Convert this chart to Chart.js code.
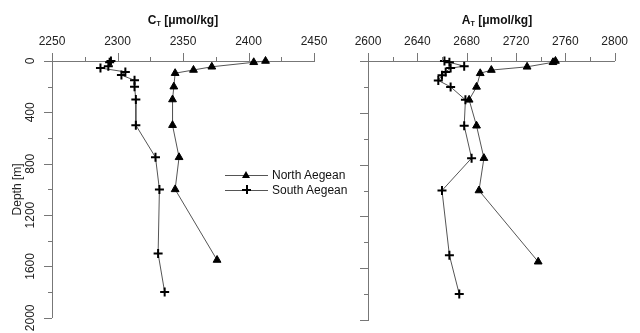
<!DOCTYPE html>
<html>
<head>
<meta charset="utf-8">
<script src="https://cdn.jsdelivr.net/npm/chart.js@4.4.1/dist/chart.umd.min.js"></script>
<style>
    body { margin: 0; background: #fff; font-family: "Liberation Sans", Arial, sans-serif; color: #111; }
    #wrap { position: relative; width: 640px; height: 333px; overflow: hidden; }
    #cLeft  { position: absolute; left: 0;     top: 0; }
    #cRight { position: absolute; left: 320px; top: 0; }
    .title { position: absolute; top: 13px; font-size: 12px; font-weight: bold; transform: translateX(-50%); white-space: nowrap; }
    .title sub { font-size: 7px; vertical-align: -2px; }
    .leg { position: absolute; left: 225px; height: 14px; display: flex; align-items: center; font-size: 12px; }
    .leg .ln { position: relative; width: 43px; height: 1px; background: #555; margin-right: 4px; }
    .tri { position: absolute; left: 17px; top: -4px; width: 0; height: 0;
           border-left: 4px solid transparent; border-right: 4px solid transparent; border-bottom: 7px solid #000; }
    .ph { position: absolute; left: 17px; top: -1px; width: 9px; height: 2px; background: #000; }
    .pv { position: absolute; left: 20.5px; top: -4.5px; width: 2px; height: 9px; background: #000; }
</style>
</head>
<body>
<div id="wrap">
    <canvas id="cLeft" width="340" height="333"></canvas>
    <canvas id="cRight" width="320" height="333"></canvas>
    <div class="title" style="left:183px">C<sub>T</sub> [μmol/kg]</div>
    <div class="title" style="left:497px">A<sub>T</sub> [μmol/kg]</div>
    <div class="leg" style="top:168px"><span class="ln"><span class="tri"></span></span>North Aegean</div>
    <div class="leg" style="top:183px"><span class="ln"><span class="ph"></span><span class="pv"></span></span>South Aegean</div>
</div>
<script>
// depths (m) of the sampled stations
const depthNorth = [0, 10, 45, 70, 95, 200, 300, 500, 750, 1000, 1550];
const depthSouth = [0, 10, 40, 55, 85, 110, 150, 200, 300, 500, 750, 1000, 1500, 1800];

// total inorganic carbon C_T
const ctNorth = [2413, 2404, 2372, 2358, 2344, 2343, 2342, 2342, 2347, 2344, 2376];
const ctSouth = [2295, 2294, 2293, 2287, 2306, 2303, 2313, 2313, 2314, 2314, 2329, 2332, 2331, 2336];

// total alkalinity A_T
const atNorth = [2752, 2750, 2729, 2700, 2691, 2688, 2682, 2688, 2694, 2690, 2738];
const atSouth = [2662, 2666, 2678, 2667, 2663, 2660, 2657, 2667, 2679, 2678, 2684, 2660, 2666, 2674];

const depthTicks = { min: 0, max: 2000, step: 200, major: 400 };
const ctTicks = { min: 2250, max: 2450, step: 25, major: 50 };
const atTicks = { min: 2600, max: 2800, step: 20, major: 40 };

const AXIS = '#777';
const INK = '#222';

const toPts = (xs, ys) => xs.map((v, i) => ({ x: v, y: ys[i] }));

// major/minor tick marks, drawn outward from the axes
const axisTicks = {
    id: 'axisTicks',
    afterDraw(chart, args, opts) {
        const ctx = chart.ctx, x = chart.scales.x, y = chart.scales.y;
        ctx.save();
        ctx.strokeStyle = AXIS; ctx.lineWidth = 1;
        ctx.beginPath();
        x.ticks.forEach(t => {
            const px = Math.round(x.getPixelForValue(t.value)) + 0.5;
            const len = t.value % opts.xMajor === 0 ? 8 : 4;
            ctx.moveTo(px, x.bottom); ctx.lineTo(px, x.bottom - len);
        });
        y.ticks.forEach(t => {
            const py = Math.round(y.getPixelForValue(t.value)) + 0.5;
            const len = t.value % opts.yMajor === 0 ? 8 : 4;
            ctx.moveTo(y.right, py); ctx.lineTo(y.right - len, py);
        });
        ctx.stroke();
        ctx.restore();
    }
};

function series(label, xs, ys, style) {
    const cross = style === 'cross';
    return {
        label, data: toPts(xs, ys), showLine: true,
        borderColor: '#555', borderWidth: 1,
        pointStyle: style, pointRadius: cross ? 4.5 : 4.5,
        pointBorderWidth: cross ? 2 : 1,
        pointBackgroundColor: '#000', pointBorderColor: '#000',
        clip: false
    };
}

function makeChart(id, xs, left, yWidth, padRight) {
    const font = { family: '"Liberation Sans", Arial, sans-serif', size: 12 };
    return new Chart(document.getElementById(id), {
        type: 'scatter',
        data: {
            datasets: [
                series('North Aegean', xs.north, depthNorth, 'triangle'),
                series('South Aegean', xs.south, depthSouth, 'cross')
            ]
        },
        options: {
            responsive: false, animation: false,
            layout: { padding: { left: 0, right: padRight, top: 0, bottom: 13 } },
            plugins: {
                legend: { display: false }, tooltip: { enabled: false },
                axisTicks: { xMajor: xs.ticks.major, yMajor: depthTicks.major }
            },
            scales: {
                x: {
                    type: 'linear', position: 'top', min: xs.ticks.min, max: xs.ticks.max,
                    ticks: {
                        stepSize: xs.ticks.step, padding: 12, autoSkip: false, maxRotation: 0,
                        color: INK, font, callback: v => v % xs.ticks.major === 0 ? v : ''
                    },
                    grid: { display: false, drawTicks: false },
                    border: { display: true, color: AXIS, width: 1 },
                    afterFit: s => { s.height = 61; }
                },
                y: {
                    type: 'linear', position: 'left', reverse: true,
                    min: depthTicks.min, max: depthTicks.max,
                    ticks: {
                        display: left, stepSize: depthTicks.step, autoSkip: false,
                        minRotation: 90, maxRotation: 90, crossAlign: 'center', padding: 8,
                        color: INK, font, callback: v => v % depthTicks.major === 0 ? v : ''
                    },
                    grid: { display: false, drawTicks: false },
                    border: { display: true, color: AXIS, width: 1 },
                    title: { display: left, text: 'Depth [m]', color: INK, font, padding: { top: 10, bottom: 0 } },
                    afterFit: s => { s.width = yWidth; }
                }
            }
        },
        plugins: [axisTicks]
    });
}

makeChart('cLeft',  { north: ctNorth, south: ctSouth, ticks: ctTicks }, true, 52, 26);
makeChart('cRight', { north: atNorth, south: atSouth, ticks: atTicks }, false, 48, 14);
</script>
</body>
</html>
